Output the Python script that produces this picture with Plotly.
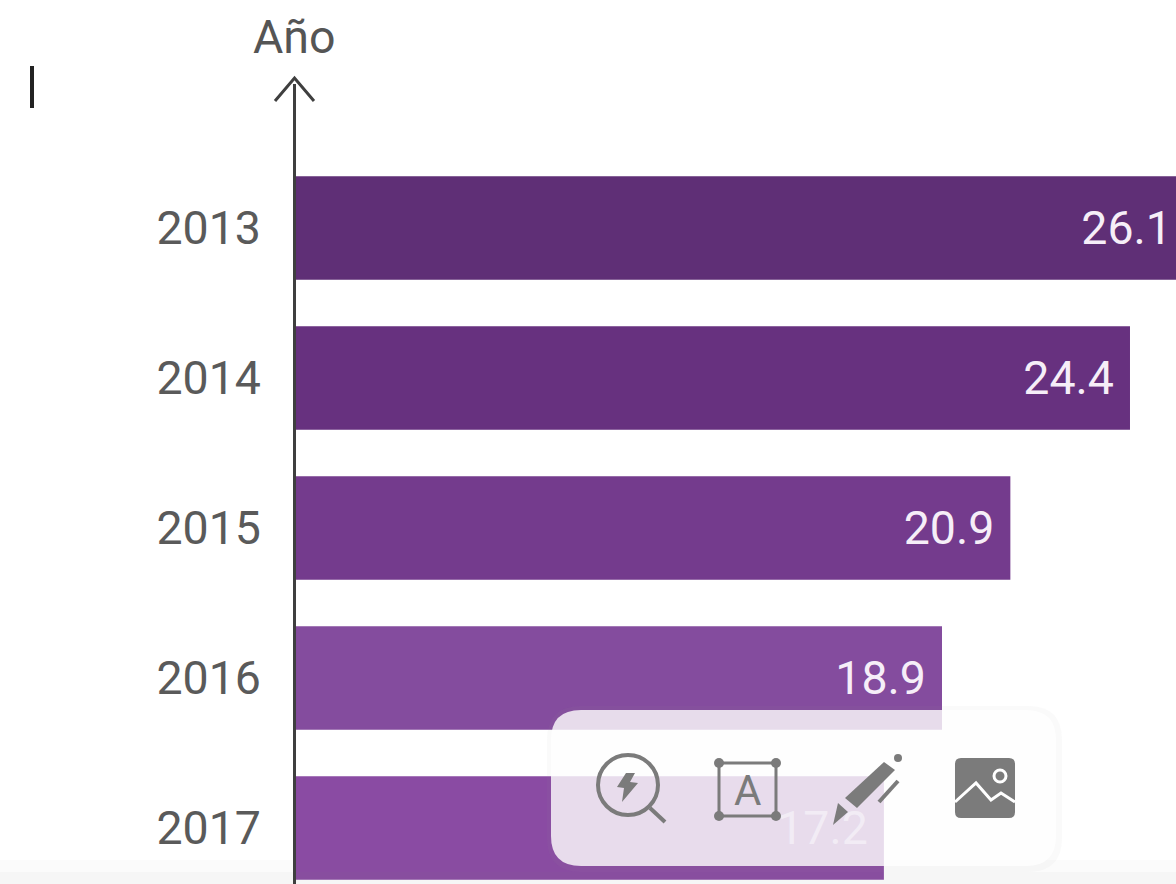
import plotly.graph_objects as go

years = ["2013", "2014", "2015", "2016", "2017"]
values = [26.1, 24.4, 20.9, 18.9, 17.2]
bar_colors = ["#5f2f76", "#67317f", "#743b8d", "#844c9e", "#8a4ba3"]
label_colors = ["#f6eef8", "#f6eef8", "#f6eef8", "#f6eef8", "#bfa3cd"]
axis_title = "Año"

W, H = 1176, 884
L, T = 296, 100
PW, PH = W - L, H - T
LABEL_INSET = 0.47
X_MAX = PW / 34.18
FS = 46.5
Y_RANGE = [4 + (884 - 828) / 150, -(228 - T) / 150]
LABEL_DROP = 4 / 150


def px(x):
    return (x - L) / PW


def py(y):
    return 1 - (y - T) / PH


def path(points, close=False):
    s = "M" + " L".join(f"{px(x):.5f},{py(y):.5f}" for x, y in points)
    return s + (" Z" if close else "")


def rrect(x0, y0, x1, y1, r):
    return (
        f"M{px(x0 + r):.5f},{py(y0):.5f} L{px(x1 - r):.5f},{py(y0):.5f} "
        f"Q{px(x1):.5f},{py(y0):.5f} {px(x1):.5f},{py(y0 + r):.5f} "
        f"L{px(x1):.5f},{py(y1 - r):.5f} Q{px(x1):.5f},{py(y1):.5f} {px(x1 - r):.5f},{py(y1):.5f} "
        f"L{px(x0 + r):.5f},{py(y1):.5f} Q{px(x0):.5f},{py(y1):.5f} {px(x0):.5f},{py(y1 - r):.5f} "
        f"L{px(x0):.5f},{py(y0 + r):.5f} Q{px(x0):.5f},{py(y0):.5f} {px(x0 + r):.5f},{py(y0):.5f} Z"
    )


def pshape(d, fill="rgba(0,0,0,0)", color="rgba(0,0,0,0)", width=0):
    return dict(type="path", xref="paper", yref="paper", path=d, fillcolor=fill,
                line=dict(color=color, width=width), layer="above")


def circle(cx, cy, r, fill="rgba(0,0,0,0)", color="rgba(0,0,0,0)", width=0):
    return dict(type="circle", xref="paper", yref="paper",
                x0=px(cx - r), x1=px(cx + r), y0=py(cy + r), y1=py(cy - r),
                fillcolor=fill, line=dict(color=color, width=width), layer="above")


fig = go.Figure()
fig.add_trace(go.Bar(y=years, x=values, orientation="h", width=0.69,
                     marker=dict(color=bar_colors, line=dict(width=0)),
                     hoverinfo="skip"))
fig.add_trace(go.Scatter(y=years, x=[v - LABEL_INSET for v in values], mode="text",
                         yaxis="y2",
                         text=[f"{v:.1f}" for v in values],
                         textposition="middle left",
                         textfont=dict(family="Roboto", size=FS, color=label_colors),
                         hoverinfo="skip"))

ICON = "#7b7b7b"
shapes = [
    dict(type="rect", xref="paper", yref="paper", x0=px(0), x1=px(W), y0=py(884), y1=py(872),
         fillcolor="rgba(120,120,120,0.04)", line=dict(width=0), layer="above"),
    dict(type="rect", xref="paper", yref="paper", x0=px(0), x1=px(W), y0=py(884), y1=py(860),
         fillcolor="rgba(120,120,120,0.03)", line=dict(width=0), layer="above"),
    pshape(path([(294.5, 84), (294.5, 884)]), color="#3f3f3f", width=3),
    pshape(path([(275, 101), (294.5, 78), (314, 101)]), color="#3f3f3f", width=3),
    pshape(path([(32, 66), (32, 108)]), color="#222222", width=4),
    pshape(rrect(547, 706, 1062, 872, 34), fill="rgba(150,150,150,0.05)"),
    pshape(rrect(551, 710, 1056, 866, 30), fill="rgba(255,255,255,0.80)"),
    circle(628, 785, 30, color=ICON, width=4),
    pshape(path([(650, 808), (665, 822)]), color=ICON, width=4),
    pshape(path([(626, 773), (617, 787), (624, 788), (622, 802), (638, 783), (630, 782), (635, 773)], True), fill=ICON),
    pshape(path([(719, 763), (776, 763), (776, 816), (719, 816)], True), color=ICON, width=3),
    circle(719, 763, 5, fill=ICON), circle(776, 763, 5, fill=ICON),
    circle(719, 816, 5, fill=ICON), circle(776, 816, 5, fill=ICON),
    pshape(path([(845, 798), (884, 762), (895, 770), (857, 808)], True), fill=ICON),
    pshape(path([(838, 803), (848, 812), (833, 825)], True), fill=ICON),
    circle(898, 758, 4, fill=ICON),
    pshape(path([(898, 781), (879, 802)]), color=ICON, width=4),
    pshape(rrect(955, 758, 1015, 818, 6), fill=ICON),
    pshape(path([(955, 802), (976, 783), (991, 800), (1001, 793), (1015, 802)]), color="#ffffff", width=3),
    circle(1000, 776, 6, fill=ICON, color="#ffffff", width=3),
]

annotations = [
    dict(xref="paper", yref="paper", x=px(294), y=py(37), text=axis_title, showarrow=False,
         xanchor="center", yanchor="middle", font=dict(family="Roboto", size=FS, color="#555555")),
    dict(xref="paper", yref="paper", x=px(747), y=py(790), text="A", showarrow=False,
         xanchor="center", yanchor="middle", font=dict(family="Roboto", size=42, color=ICON)),
]

fig.update_layout(
    width=W, height=H, autosize=False, showlegend=False,
    paper_bgcolor="#ffffff", plot_bgcolor="#ffffff",
    margin=dict(l=L, r=0, t=T, b=0),
    shapes=shapes, annotations=annotations,
    xaxis=dict(range=[0, X_MAX], visible=False, fixedrange=True),
    yaxis=dict(type="category", categoryorder="array", categoryarray=years,
               range=Y_RANGE,
               showgrid=False, zeroline=False, showline=False, ticks="",
               ticklabelstandoff=34, fixedrange=True,
               tickfont=dict(family="Roboto", size=FS, color="#5a5a5a")),
    yaxis2=dict(type="category", categoryorder="array", categoryarray=years,
                overlaying="y", visible=False, fixedrange=True,
                range=[Y_RANGE[0] - LABEL_DROP, Y_RANGE[1] - LABEL_DROP]),
)

fig.write_html("out.html", config=dict(displayModeBar=False),
               post_script="document.body.style.margin='0';document.documentElement.style.overflow='hidden';")
